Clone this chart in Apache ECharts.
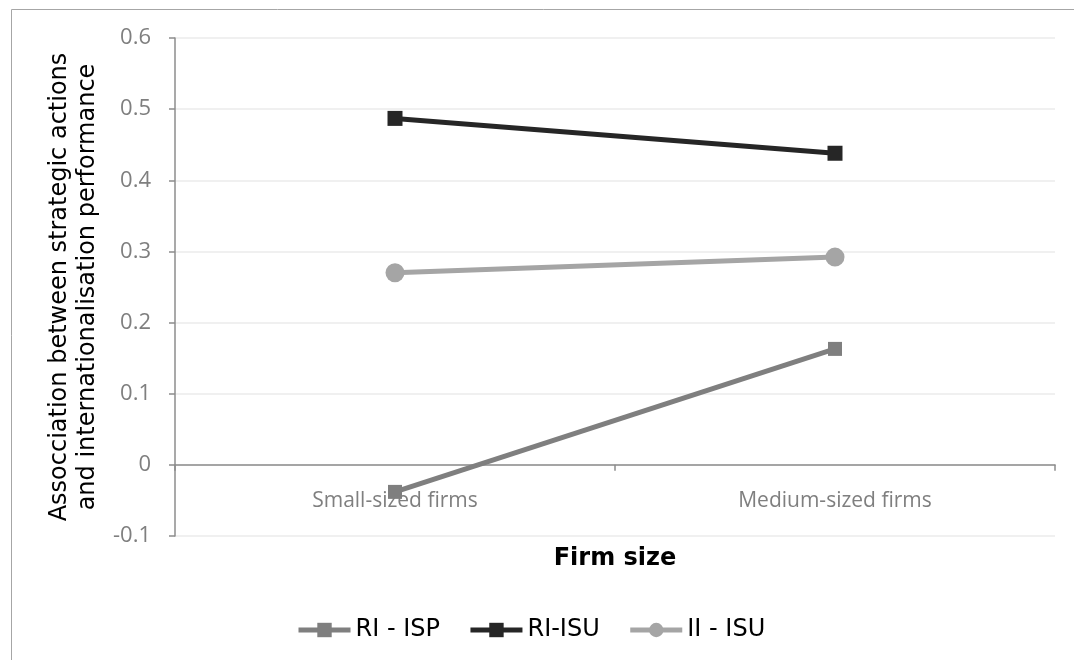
<!DOCTYPE html>
<html>
<head>
<meta charset="utf-8">
<script src="https://cdn.jsdelivr.net/npm/echarts@6/dist/echarts.min.js"></script>
<style>
html,body{margin:0;padding:0;background:#fff;}
#chart{width:1074px;height:660px;}
</style>
</head>
<body>
<div id="chart"></div>
<script>
const categories = ['Small-sized firms', 'Medium-sized firms'];
const seriesNames = ['RI - ISP', 'RI-ISU', 'II - ISU'];
const riIsp = [-0.038, 0.163];
const riIsu = [0.487, 0.438];
const iiIsu = [0.270, 0.292];
const yTitle = 'Assocciation between strategic actions\nand internationalisation performance';
const xTitle = 'Firm size';

const chart = echarts.init(document.getElementById('chart'));
const option = {
  animation: false,
  backgroundColor: '#fff',
  graphic: [{
    type: 'rect', left: 9, top: 7, silent: true,
    shape: {x: 0, y: 0, width: 1200, height: 800},
    style: {fill: 'none', stroke: '#a6a6a6', lineWidth: 1}
  }],
  grid: {left: 175, right: 19, top: 38, bottom: 124, containLabel: false},
  legend: {
    left: 291, top: 613,
    itemWidth: 52, itemHeight: 18, itemGap: 28,
    lineStyle: {width: 5},
    textStyle: {fontFamily: 'DejaVu Sans', fontSize: 24, color: '#000'},
    data: seriesNames
  },
  xAxis: {
    type: 'category',
    data: categories,
    boundaryGap: true,
    axisLine: {onZero: true, lineStyle: {color: '#8c8c8c', width: 1.5}},
    axisTick: {show: true, alignWithLabel: false, length: 6, lineStyle: {color: '#8c8c8c', width: 1.5}},
    axisLabel: {margin: -45, fontFamily: 'Open Sans', fontSize: 21, color: '#7f7f7f'},
    splitLine: {show: false},
    name: xTitle,
    nameLocation: 'middle',
    nameGap: 11,
    nameTextStyle: {fontFamily: 'DejaVu Sans', fontSize: 24, fontWeight: 'bold', color: '#000'}
  },
  yAxis: {
    type: 'value',
    min: -0.1, max: 0.6, interval: 0.1,
    axisLine: {show: true, lineStyle: {color: '#8c8c8c', width: 1.5}},
    axisTick: {show: true, length: 6, lineStyle: {color: '#8c8c8c', width: 1.5}},
    axisLabel: {margin: 24, fontFamily: 'Open Sans', fontSize: 22, color: '#7f7f7f',
      formatter: v => String(Math.round(v * 10) / 10)},
    splitLine: {show: true, lineStyle: {color: '#ebebeb', width: 1.5}},
    name: yTitle,
    nameLocation: 'middle',
    nameRotate: 90,
    nameGap: 71,
    nameTextStyle: {fontFamily: 'DejaVu Sans', fontSize: 24, color: '#000', lineHeight: 28, align: 'center'}
  },
  series: [
    {name: seriesNames[0], type: 'line', data: riIsp, symbol: 'rect', symbolSize: 14,
      itemStyle: {color: '#7f7f7f'}, lineStyle: {color: '#7f7f7f', width: 5}, z: 2},
    {name: seriesNames[1], type: 'line', data: riIsu, symbol: 'rect', symbolSize: 15,
      itemStyle: {color: '#262626'}, lineStyle: {color: '#262626', width: 5}, z: 3},
    {name: seriesNames[2], type: 'line', data: iiIsu, symbol: 'circle', symbolSize: 19,
      itemStyle: {color: '#a5a5a5'}, lineStyle: {color: '#a5a5a5', width: 5}, z: 2}
  ]
};
chart.setOption(option);
</script>
</body>
</html>
